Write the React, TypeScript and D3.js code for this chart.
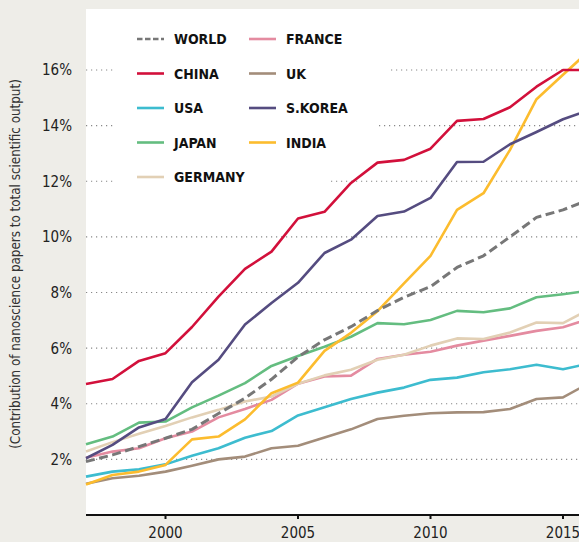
import React from "react";
import * as d3 from "d3";

const years = [1997, 1998, 1999, 2000, 2001, 2002, 2003, 2004, 2005, 2006, 2007, 2008, 2009, 2010, 2011, 2012, 2013, 2014, 2015, 2016];

// share of nanoscience papers in total output (%)
const world = [1.92, 2.16, 2.46, 2.76, 3.08, 3.65, 4.2, 4.88, 5.68, 6.3, 6.77, 7.35, 7.83, 8.21, 8.9, 9.32, 10.0, 10.7, 10.97, 11.35];
const china = [4.71, 4.89, 5.54, 5.82, 6.76, 7.85, 8.85, 9.47, 10.66, 10.9, 11.94, 12.67, 12.77, 13.17, 14.17, 14.24, 14.66, 15.4, 16.0, 16.0];
const usa = [1.38, 1.56, 1.64, 1.82, 2.13, 2.4, 2.78, 3.02, 3.58, 3.87, 4.17, 4.4, 4.58, 4.86, 4.94, 5.13, 5.24, 5.4, 5.24, 5.45];
const japan = [2.54, 2.82, 3.32, 3.36, 3.87, 4.29, 4.74, 5.36, 5.72, 6.05, 6.41, 6.9, 6.86, 7.01, 7.34, 7.29, 7.43, 7.83, 7.94, 8.07];
const germany = [2.28, 2.62, 2.92, 3.2, 3.51, 3.78, 4.08, 4.26, 4.72, 5.02, 5.22, 5.58, 5.76, 6.09, 6.35, 6.33, 6.56, 6.92, 6.9, 7.4];
const france = [2.06, 2.28, 2.4, 2.76, 3.0, 3.51, 3.81, 4.14, 4.72, 4.98, 5.01, 5.61, 5.76, 5.87, 6.09, 6.27, 6.44, 6.62, 6.75, 7.05];
const uk = [1.12, 1.32, 1.41, 1.56, 1.77, 2.0, 2.1, 2.4, 2.49, 2.79, 3.08, 3.45, 3.57, 3.66, 3.69, 3.7, 3.81, 4.17, 4.23, 4.75];
const korea = [2.04, 2.52, 3.15, 3.45, 4.77, 5.58, 6.85, 7.62, 8.35, 9.42, 9.9, 10.75, 10.91, 11.4, 12.69, 12.7, 13.33, 13.77, 14.23, 14.56];
const india = [1.1, 1.44, 1.56, 1.8, 2.72, 2.82, 3.44, 4.38, 4.76, 5.9, 6.55, 7.33, 8.33, 9.32, 10.97, 11.57, 13.13, 14.95, 15.83, 16.7];

const yTicks = [2, 4, 6, 8, 10, 12, 14, 16];
const xTicks = [2000, 2005, 2010, 2015];

const series = [
  { name: "UK", values: uk, color: "#a38d7a", dash: "" },
  { name: "USA", values: usa, color: "#3dbccf", dash: "" },
  { name: "FRANCE", values: france, color: "#e48ba0", dash: "" },
  { name: "GERMANY", values: germany, color: "#e2d0b5", dash: "" },
  { name: "JAPAN", values: japan, color: "#64bd80", dash: "" },
  { name: "INDIA", values: india, color: "#fcbc2e", dash: "" },
  { name: "S.KOREA", values: korea, color: "#554c80", dash: "" },
  { name: "CHINA", values: china, color: "#d2103b", dash: "" },
  { name: "WORLD", values: world, color: "#777777", dash: "9 4.5" },
];

const legendCols = [
  ["WORLD", "CHINA", "USA", "JAPAN", "GERMANY"],
  ["FRANCE", "UK", "S.KOREA", "INDIA"],
];

const W = 579, H = 542;
const left = 86, top = 9, bottom = 515;
const font = "'DejaVu Sans Condensed', 'DejaVu Sans', sans-serif";

// where the grid lines come back after the legend
const gridGap: Record<number, number> = { 12: 331, 14: 379, 16: 391 };

export default function App() {
  const x = d3.scaleLinear().domain([1997, 2015]).range([left, 563]);
  const y = d3.scaleLinear().domain([0, 16]).range([bottom, 70]);

  const line = d3.line<number>()
    .x((_, i) => x(years[i]))
    .y(d => y(d));

  const byName = new Map(series.map(s => [s.name, s]));

  return (
    <svg width={W} height={H} style={{ position: "absolute", left: 0, top: 0 }} fontFamily={font}>
      <rect x={0} y={0} width={W} height={H} fill="#eeede8" />
      <rect x={left} y={top} width={W - left} height={bottom - top} fill="#ffffff" />

      {yTicks.map(t => {
        const gy = y(t);
        const gap = gridGap[t];
        const props = { stroke: "#888", strokeWidth: 1.2, strokeDasharray: "1.2 3.8" };
        return (
          <g key={t}>
            {gap ? (
              <>
                <line x1={left} x2={113} y1={gy} y2={gy} {...props} />
                <line x1={gap} x2={W} y1={gy} y2={gy} {...props} />
              </>
            ) : (
              <line x1={left} x2={W} y1={gy} y2={gy} {...props} />
            )}
            <text x={72} y={gy} dy="0.36em" textAnchor="end" fontSize={15} fill="#222" fontWeight={500}>
              {t}%
            </text>
          </g>
        );
      })}

      {series.map(s => (
        <path
          key={s.name}
          d={line(s.values) || ""}
          fill="none"
          stroke={s.color}
          strokeWidth={s.dash ? 3 : 2.6}
          strokeDasharray={s.dash || undefined}
          strokeLinejoin="round"
        />
      ))}

      <line x1={left} x2={W} y1={bottom} y2={bottom} stroke="#111" strokeWidth={2.2} />
      {xTicks.map(t => (
        <g key={t}>
          <line x1={x(t)} x2={x(t)} y1={bottom} y2={bottom + 4} stroke="#111" strokeWidth={2} />
          <text x={x(t)} y={538} textAnchor="middle" fontSize={15} fill="#222" fontWeight={500}>
            {t}
          </text>
        </g>
      ))}

      <text
        transform={`translate(20, 264) rotate(-90)`}
        textAnchor="middle"
        fontSize={13.3}
        fill="#333"
      >
        (Contribution of nanoscience papers to total scientific output)
      </text>

      {legendCols.map((col, ci) =>
        col.map((name, ri) => {
          const s = byName.get(name)!;
          const lx = ci === 0 ? 137 : 249;
          const ly = 39 + ri * 34.5;
          return (
            <g key={name}>
              <line x1={lx} x2={lx + 27} y1={ly} y2={ly} stroke={s.color} strokeWidth={2.6} strokeDasharray={s.dash ? "5.5 2.5" : undefined} />
              <text x={lx + 37} y={ly} dy="0.36em" fontSize={14} fontWeight="bold" fill="#111">
                {name}
              </text>
            </g>
          );
        })
      )}
    </svg>
  );
}
